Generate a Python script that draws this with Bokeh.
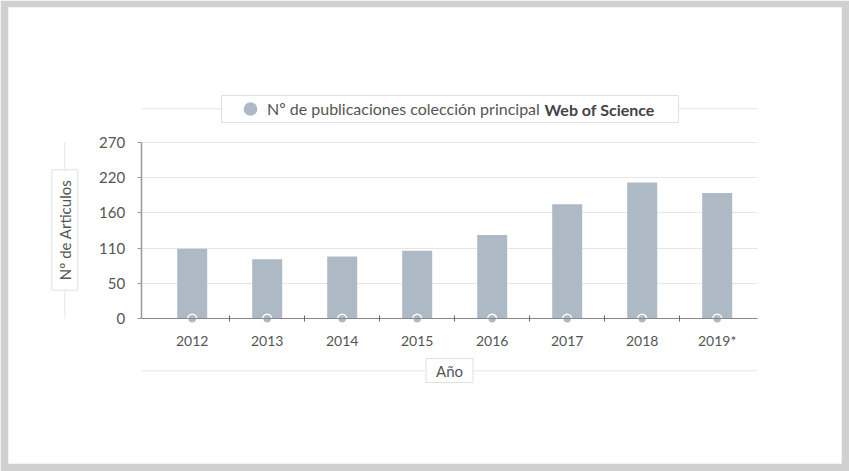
from bokeh.plotting import figure
from bokeh.models import (LinearAxis, FixedTicker, Grid, Label, Legend, LegendItem,
                          ColumnDataSource)
from bokeh.embed import file_html
from bokeh.resources import INLINE
import math

# ---- data ----
years = ["2012", "2013", "2014", "2015", "2016", "2017", "2018", "2019*"]
articles = [107, 91, 95, 104, 128, 175, 208, 192]
y_ticks = [0, 54, 108, 162, 216, 270]
y_tick_labels = ["0", "50", "110", "160", "220", "270"]
series_name = "Nº de publicaciones colección principal"
series_bold = "Web of Science"
x_title = "Año"
y_title = "Nº de Articulos"

# ---- layout (pixel anchors) ----
W, H = 849, 471
BL, BR, BT, BB = 8, 8, 7, 8
cx0, cstep = 191.7, 75.0           # pixel of first category centre, spacing
py0, ppu = 318.3, 176.8 / 270.0     # pixel of y=0, pixels per unit

def xd(px):
    return (px - cx0) / cstep

def yd(py):
    return (py0 - py) / ppu

FONT = "Lato"
TXT = "#555555"
BAR = "#aeb9c6"
GRID = "#e6e6e6"
BOX = "#e0e0e0"

idx = list(range(len(years)))
src = ColumnDataSource(dict(x=idx, top=articles, base=[0] * len(years)))

p = figure(width=W, height=H, output_backend="svg", toolbar_location=None,
           x_axis_type=None, y_axis_type=None,
           x_range=(xd(BL), xd(W - BR)), y_range=(yd(H - BB), yd(BT)),
           min_border_left=BL, min_border_right=BR, min_border_top=BT,
           min_border_bottom=BB)
p.border_fill_color = "#d0d0d0"
p.background_fill_color = "white"
p.outline_line_color = None

x_left, x_right = xd(140.7), xd(757)

# grid
yticker = FixedTicker(ticks=y_ticks)
grid = Grid(dimension=1, ticker=yticker, cross_bounds=(x_left, x_right),
            grid_line_color=GRID, grid_line_width=1)
p.add_layout(grid)

# decorative frame lines (legend line, x-title line, y-title line)
p.segment(x0=[x_left, x_left, xd(64.3)], y0=[yd(108.3), yd(370.3), 0],
          x1=[x_right, x_right, xd(64.3)], y1=[yd(108.3), yd(370.3), 270],
          line_color=GRID, line_width=1)
# legend box
p.quad(left=[xd(221)], right=[xd(678)], top=[yd(95)], bottom=[yd(122)],
       fill_color="white", line_color=BOX, line_width=1)

# bars
p.vbar(x="x", top="top", width=0.4, source=src, fill_color=BAR, line_color=None)
dots = p.ellipse(x="x", y="base", source=src, width=9, height=9,
                 width_units="screen", height_units="screen",
                 fill_color=BAR, line_color="white", line_width=1.5)

# y axis
yaxis = LinearAxis(ticker=yticker, fixed_location=x_left, bounds=(0, 270))
yaxis.major_label_overrides = {t: l for t, l in zip(y_ticks, y_tick_labels)}
yaxis.axis_line_color = "#999999"
yaxis.axis_line_width = 1.5
yaxis.major_tick_line_color = "#999999"
yaxis.major_tick_in = 0
yaxis.major_tick_out = 4
yaxis.minor_tick_line_color = None
yaxis.major_label_standoff = 12
yaxis.major_label_text_font = FONT
yaxis.major_label_text_font_size = "15px"
yaxis.major_label_text_color = TXT
p.add_layout(yaxis, "left")

# x axis
xticker = FixedTicker(ticks=idx, minor_ticks=[i + 0.5 for i in idx[:-1]])
xaxis = LinearAxis(ticker=xticker, fixed_location=0, bounds=(x_left, x_right))
xaxis.major_label_overrides = {i: y for i, y in zip(idx, years)}
xaxis.axis_line_color = "#888888"
xaxis.axis_line_width = 1.2
xaxis.major_tick_line_color = None
xaxis.minor_tick_line_color = "#666666"
xaxis.minor_tick_in = 3
xaxis.minor_tick_out = 3
xaxis.major_label_standoff = 7
xaxis.major_label_text_font = FONT
xaxis.major_label_text_font_size = "14px"
xaxis.major_label_text_color = TXT
p.add_layout(xaxis, "below")

# legend (transparent; box drawn above)
legend = Legend(items=[LegendItem(label=series_name, renderers=[dots])],
                location=(240 - BL, H - BB - 118), orientation="horizontal",
                label_text_font=FONT, label_text_font_size="16px",
                label_text_color=TXT, border_line_color=None,
                background_fill_alpha=0,
                padding=0, margin=0, glyph_width=20, glyph_height=19,
                label_standoff=7, label_height=19)
p.add_layout(legend)
p.add_layout(Label(x=544 - BL, y=H - BB - 108.5, x_units="screen", y_units="screen",
                   text=series_bold, text_font=FONT, text_font_size="16px",
                   text_font_style="bold", text_color="#444444",
                   text_baseline="middle", text_align="left"))

# axis titles in boxes
p.add_layout(Label(x=449 - BL, y=H - BB - 370, x_units="screen", y_units="screen",
                   text=x_title, text_font=FONT, text_font_size="15px",
                   text_color=TXT, text_align="center", text_baseline="middle",
                   background_fill_color="white", border_line_color=BOX,
                   padding=(10, 3)))
p.add_layout(Label(x=64.3 - BL, y=H - BB - 229.5, x_units="screen", y_units="screen",
                   text=y_title, text_font=FONT, text_font_size="15px",
                   text_color=TXT, text_align="center", text_baseline="middle",
                   angle=math.pi / 2, background_fill_color="white",
                   border_line_color=BOX, padding=(10, 4)))

open("out.html", "w").write(file_html(p, INLINE))
